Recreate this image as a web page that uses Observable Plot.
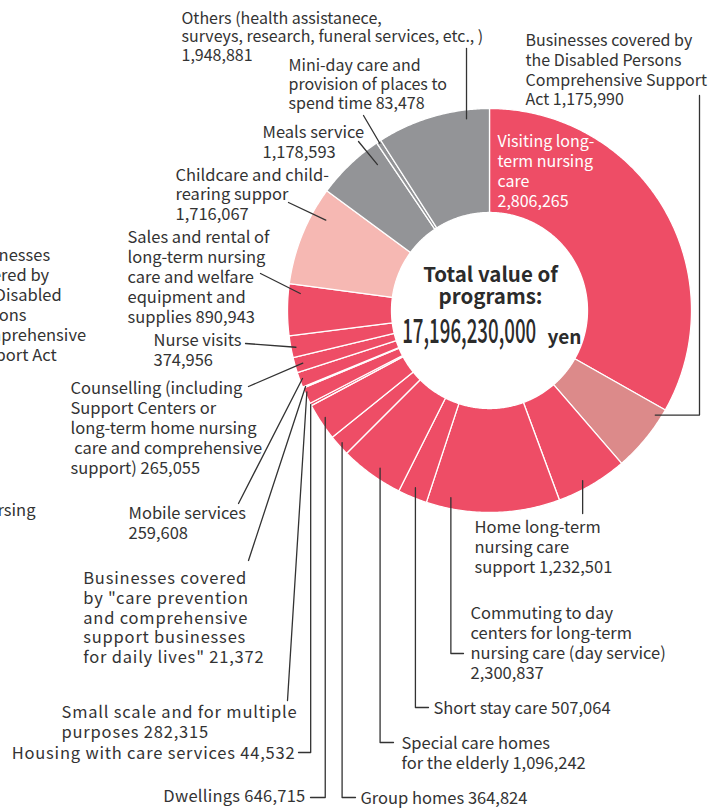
<!DOCTYPE html>
<html><head><meta charset="utf-8">
<script src="https://cdn.jsdelivr.net/npm/d3@7"></script>
<script src="https://cdn.jsdelivr.net/npm/@observablehq/plot@0.6"></script>
<style>
html,body{margin:0;padding:0;background:#fff;overflow:hidden;}
#chart{width:724px;height:810px;}
</style></head><body><div id="chart"></div>
<script>
// ---------- data ----------
const categories = [
  "Visiting long-term nursing care",
  "Businesses covered by the Disabled Persons Comprehensive Support Act",
  "Home long-term nursing care support",
  "Commuting to day centers for long-term nursing care (day service)",
  "Short stay care",
  "Special care homes for the elderly",
  "Group homes",
  "Dwellings",
  "Housing with care services",
  "Small scale and for multiple purposes",
  "Businesses covered by \"care prevention and comprehensive support businesses for daily lives\"",
  "Mobile services",
  "Counselling (including Support Centers or long-term home nursing care and comprehensive support)",
  "Nurse visits",
  "Sales and rental of long-term nursing care and welfare equipment and supplies",
  "Childcare and child-rearing suppor",
  "Meals service",
  "Mini-day care and provision of places to spend time",
  "Others (health assistanece, surveys, research, funeral services, etc., )"
];
// thousand yen
const values = [2806265, 1175990, 1232501, 2300837, 507064, 1096242, 364824, 646715, 44532,
  282315, 21372, 259608, 265055, 374956, 890943, 1716067, 1178593, 83478, 1948881];
// the reference draws the first slice much larger than its label value
const visitingDrawnValue = 7150000;
const sliceColors = ["#ee4d66", "#dc8a8a", "#ee4d66", "#ee4d66", "#ee4d66", "#ee4d66", "#ee4d66",
  "#ee4d66", "#ee4d66", "#ee4d66", "#ee4d66", "#ee4d66", "#ee4d66", "#ee4d66", "#ee4d66",
  "#f6b8b3", "#939497", "#939497", "#939497"];
const labelTexts = [
  "Visiting long-\nterm nursing\ncare\n2,806,265",
  "Businesses covered by\nthe Disabled Persons\nComprehensive Support\nAct 1,175,990",
  "Home long-term\nnursing care\nsupport 1,232,501",
  "Commuting to day\ncenters for long-term\nnursing care (day service)\n2,300,837",
  "Short stay care 507,064",
  "Special care homes\nfor the elderly 1,096,242",
  "Group homes 364,824",
  "Dwellings 646,715",
  "Housing with care services 44,532",
  "Small scale and for multiple\npurposes 282,315",
  "Businesses covered\nby \"care prevention\nand comprehensive\nsupport businesses\nfor daily lives\" 21,372",
  "Mobile services\n259,608",
  "Counselling (including\nSupport Centers or\nlong-term home nursing\n care and comprehensive\nsupport) 265,055",
  "Nurse visits\n374,956",
  "Sales and rental of\nlong-term nursing\ncare and welfare\nequipment and\nsupplies 890,943",
  "Childcare and child-\nrearing suppor\n1,716,067",
  "Meals service\n1,178,593",
  "Mini-day care and\nprovision of places to\nspend time 83,478",
  "Others (health assistanece,\nsurveys, research, funeral services, etc., )\n1,948,881"
];
const centerTitle = "Total value of\nprograms:";
const centerTotal = "17,196,230,000";
const centerUnit = "yen";
// fragments of labels cut off at the left edge of the reference
const ghostTexts = ["Businesses\ncovered by\nthe Disabled\nPersons\nComprehensive\nSupport Act", "nursing"];

// ---------- layout (pixels) ----------
const W = 724, H = 810;
const CX = 489, CY = 310, R_OUT = 202, R_IN = 98;
const FONT = "'Noto Sans CJK JP', 'Noto Sans', sans-serif";
const INK = "#333333";
// x = left (or right if anchor end) edge, yc = centre of first line
const layout = [
  {x: 497, yc: 140.7, lh: 20, fs: 16, ls: 0, color: "#ffffff"},
  {x: 525, yc: 40, lh: 19.7, fs: 16, ls: 0, leader: {t: 0.14, r: 196, type: "hv", ex: 699, ey: 95}},
  {x: 474, yc: 527.3, lh: 20, fs: 16.5, ls: 0, leader: {t: 0.59, r: 194, type: "vh", ey: 513}},
  {x: 470, yc: 613, lh: 20, fs: 16.5, ls: 0, leader: {t: 0.83, r: 191, type: "vh", ex: 463, ey: 653}},
  {x: 433, yc: 707.7, lh: 20, fs: 16.5, ls: 0, leader: {t: 0.53, r: 192, type: "vh", ex: 428, ey: 707}},
  {x: 401, yc: 743.3, lh: 20, fs: 16.5, ls: 0, leader: {t: 0.44, r: 192, type: "vh", ex: 393, ey: 742}},
  {x: 360, yc: 798, lh: 20, fs: 16.5, ls: 0, leader: {t: 0.51, r: 198, type: "vh", ex: 355, ey: 797}},
  {x: 305, yc: 796, lh: 20, fs: 16.5, ls: 0.25, anchor: "end", leader: {t: 0.54, r: 196, type: "vh", ex: 310, ey: 797}},
  {x: 295, yc: 752.7, lh: 20, fs: 16.5, ls: 0.8, anchor: "end", leader: {t: 0.5, r: 202, type: "vh", ex: 298, ey: 752}},
  {x: 61, yc: 711.7, lh: 20, fs: 16.5, ls: 0.8, leader: {t: 0.7, r: 200, type: "to", ex: 287, ey: 700}},
  {x: 82.7, yc: 578.3, lh: 19.7, fs: 16.5, ls: 0.8, leader: {t: 0.5, r: 199, type: "to", ex: 248, ey: 560}},
  {x: 128, yc: 512.7, lh: 20, fs: 16.5, ls: 0, leader: {t: 0.53, r: 199, type: "to", ex: 238, ey: 503}},
  {x: 70, yc: 388.3, lh: 20, fs: 16.5, ls: 0, leader: {t: 0.49, r: 194, type: "to", ex: 248, ey: 386}},
  {x: 153, yc: 340, lh: 20, fs: 16.5, ls: 0, leader: {t: 0.44, r: 197, type: "to", ex: 245, ey: 343}},
  {x: 127, yc: 236.7, lh: 20, fs: 16.5, ls: 0, leader: {t: 0.83, r: 190, type: "to", ex: 260, ey: 273}},
  {x: 175, yc: 175, lh: 19.5, fs: 16.5, ls: 0, leader: {t: 0.74, r: 187, type: "to", ex: 288, ey: 202}},
  {x: 262, yc: 132.3, lh: 20, fs: 16.5, ls: 0, leader: {t: 0.82, r: 184, type: "to", ex: 358, ey: 141}},
  {x: 288, yc: 66, lh: 18.7, fs: 16, ls: 0, leader: {t: 0.5, r: 200, type: "to", ex: 363, ey: 115}},
  {x: 181, yc: 18.3, lh: 18.5, fs: 16, ls: 0, leader: {t: 0.79, r: 193, type: "vh", ey: 48}}
];
const ghostLayout = [
  {x: -35, yc: 255, lh: 20, fs: 16.5},
  {x: 35, yc: 510, lh: 20, fs: 16.5, anchor: "end"}
];

// ---------- geometry from data ----------
const drawnValues = values.map((v, i) => (i === 0 ? visitingDrawnValue : v));
const arcs = d3.pie().sort(null).value(d => d)(drawnValues);

const slicePts = [];
arcs.forEach((a, i) => {
  const n = Math.max(2, Math.ceil((a.endAngle - a.startAngle) / (Math.PI / 360)));
  const pts = [];
  for (let j = 0; j <= n; j++) pts.push([a.startAngle + (a.endAngle - a.startAngle) * j / n, R_OUT]);
  for (let j = n; j >= 0; j--) pts.push([a.startAngle + (a.endAngle - a.startAngle) * j / n, R_IN]);
  pts.push(pts[0]);
  pts.forEach(([t, r]) => slicePts.push({k: categories[i], color: sliceColors[i],
    x: CX + r * Math.sin(t), y: CY - r * Math.cos(t)}));
});

const leaderPts = [];
layout.forEach((L, i) => {
  if (!L.leader) return;
  const a = arcs[i], {t, r, type, ex, ey} = L.leader;
  const ang = a.startAngle + (a.endAngle - a.startAngle) * t;
  const sx = CX + r * Math.sin(ang), sy = CY - r * Math.cos(ang);
  let pts;
  if (type === "to") pts = [[sx, sy], [ex, ey]];
  else if (type === "vh") pts = ex == null ? [[sx, sy], [sx, ey]] : [[sx, sy], [sx, ey], [ex, ey]];
  else pts = [[sx, sy], [ex, sy], [ex, ey]];
  pts.forEach(p => leaderPts.push({k: categories[i], x: p[0], y: p[1]}));
});

function labelMark(text, L) {
  return Plot.text([{x: L.x, y: L.yc - 0.52 * L.fs, text}], {
    x: "x", y: "y", text: "text",
    textAnchor: L.anchor || "start", lineAnchor: "top",
    fontSize: L.fs, lineHeight: L.lh / L.fs,
    fontFamily: FONT, fill: L.color || INK
  });
}

const marks = [
  Plot.line(slicePts, {x: "x", y: "y", z: "k", fill: "color", stroke: "#ffffff",
    strokeWidth: 1.3, strokeLinejoin: "round", curve: "linear"}),
  Plot.line(leaderPts, {x: "x", y: "y", z: "k", stroke: INK, strokeWidth: 1.3, curve: "linear"}),
  ...labelTexts.map((t, i) => labelMark(t, layout[i])),
  ...ghostTexts.map((t, i) => labelMark(t, ghostLayout[i])),
  Plot.text([{x: 490, y: 303, text: centerTitle}], {x: "x", y: "y", text: "text",
    textAnchor: "middle", lineAnchor: "bottom", fontSize: 20.5, lineHeight: 22 / 20.5,
    fontWeight: 700, fontFamily: FONT, fill: "#2b2b2b"}),
  Plot.text([{x: 401.7, y: 342.7, text: centerTotal}], {x: "x", y: "y", text: "text",
    textAnchor: "start", lineAnchor: "bottom", fontSize: 34, fontWeight: 500,
    fontFamily: FONT, fill: "#2b2b2b"}),
  Plot.text([{x: 547, y: 343, text: centerUnit}], {x: "x", y: "y", text: "text",
    textAnchor: "start", lineAnchor: "bottom", fontSize: 19, fontWeight: 700,
    fontFamily: FONT, fill: "#2b2b2b"})
];

const svg = Plot.plot({
  width: W, height: H,
  margin: 0,
  x: {domain: [0, W], range: [0, W], axis: null},
  y: {domain: [0, H], range: [0, H], axis: null},
  color: {type: "identity"},
  style: {background: "#ffffff", overflow: "hidden"},
  marks
});

// text mark groups come out in mark order: 19 labels, 2 fragments, title, total, unit
const textGroups = Array.from(svg.querySelectorAll("g")).filter(g =>
  g.getAttribute("aria-label") === "text");
layout.forEach((L, i) => {
  if (L.ls && textGroups[i]) textGroups[i].style.letterSpacing = L.ls + "px";
});
svg.querySelectorAll("text").forEach(t => {
  if (t.textContent.trim() === centerTotal) {
    t.setAttribute("textLength", 134);
    t.setAttribute("lengthAdjust", "spacingAndGlyphs");
  }
});
document.getElementById("chart").appendChild(svg);
</script>
</body></html>
